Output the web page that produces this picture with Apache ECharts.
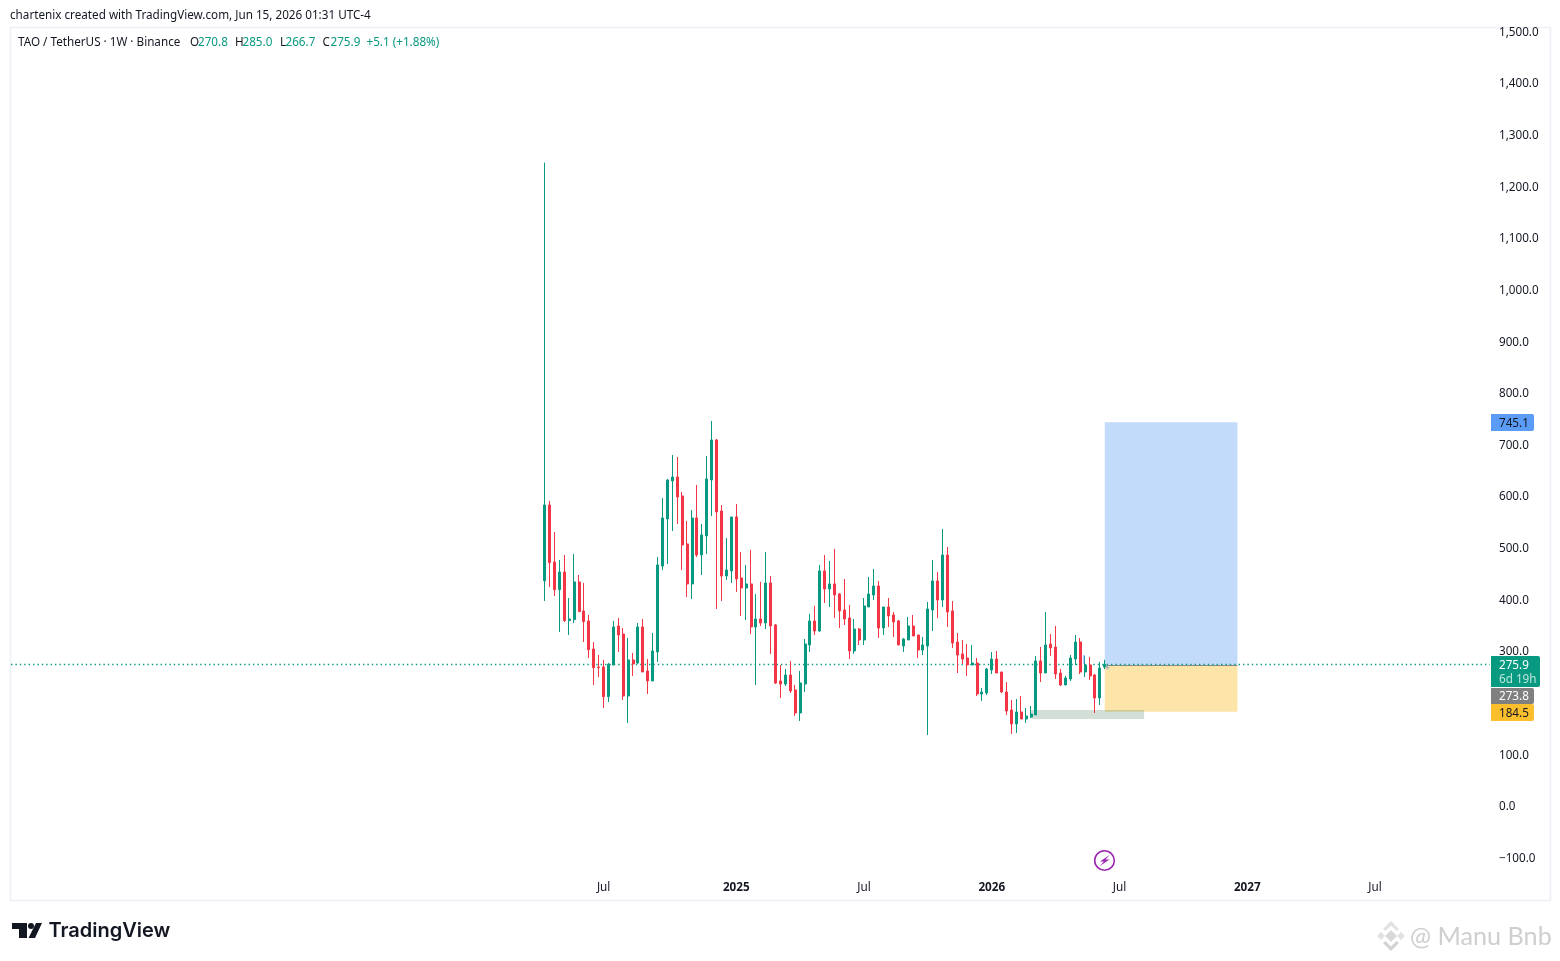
<!DOCTYPE html>
<html><head><meta charset="utf-8">
<style>html,body{margin:0;padding:0;background:#fff}#c{width:1560px;height:961px}</style>
<script src="https://cdn.jsdelivr.net/npm/echarts@6/dist/echarts.min.js"></script>
</head><body><div id="c"></div>
<script>
const FONT='"Noto Sans",sans-serif';
const opens=[438.2,584.8,474.4,420.8,455,360.8,362.7,435.7,379.5,360.1,305.9,271,271,213.5,274.9,350.4,334.9,214.8,284.6,278.8,348.5,263.2,243.9,300.1,466.6,557.7,631.3,639,602.2,509.3,431.8,559.6,487.9,524.8,633.2,710.7,573.2,447.3,457,561.6,443.4,424,431.8,348.5,364,356.2,433.7,352.4,243.9,238,255.5,226.5,181.9,238,313.6,360.1,340.7,457,422.1,431.8,412.4,381.4,365.9,302,344.6,323.3,387.2,410.5,427.9,346.5,387.2,371.7,360.1,311.7,323.3,350.4,333,303.9,311.7,381.4,437.6,400.8,487.9,379.5,319.4,296.2,288.4,274.8,278.7,218.6,220.6,265.1,286.4,261.3,222.5,187.7,160.5,183.8,170.2,174.1,178,282.6,259.3,315.5,309.7,259.3,236.1,247.7,286.4,319.4,261.3,274.8,255.5,210.9,270.8];
const closes=[584.8,473.1,420.8,455,360.8,364,435.7,378.2,358.8,304.6,269.7,269.7,213.5,276.2,348.5,333,214.8,284.6,276.8,348.5,261.3,243.9,302,468.6,559.6,633.2,639,600.3,507.3,431.8,559.6,487.9,526.7,635.2,710.7,571.3,447.3,458.9,561.6,441.5,424,431.8,348.5,364,356.2,433.7,350.4,239.8,238,255.5,224.5,181.9,240,315.6,360.1,340.7,457,422.1,431.8,410.5,379.5,364,302,344.6,323.3,389.1,412.4,427.9,346.5,387.2,369.8,358.2,313.6,325.2,350.4,331,303.9,313.6,383.3,437.6,400.8,487.9,377.5,317.5,294.2,286.5,274.8,278.7,218.6,222.5,267.1,286.4,259.3,222.5,185.7,160.5,183.8,170.2,176,179.9,282.6,259.3,313.6,307.8,257.4,236.1,249.6,288.4,319.4,261.3,274.8,253.5,210.9,269,275.9];
const lows=[398.8,426,408.5,338.8,358.2,333,356.2,378.2,319.4,288.4,236.1,251.6,191.6,203.2,274.9,300.1,207.1,162.5,253.6,276.8,261.3,218.7,243.9,280.7,458.9,470.5,534.4,548,458.9,406.6,402.7,484.1,449.2,489.9,563.5,383.4,398.9,439.5,433.7,416.3,369.8,362,334.9,236.1,350.4,344.6,296.2,238,210.9,234.2,220.6,176.1,166.4,222.6,300.1,332.9,338.8,395,387.2,365.9,346.5,352.3,286.5,296.2,313.6,313.6,387.2,400.8,327.2,333,348.5,329.1,313.6,300.1,323.3,331,288.4,294.2,139.3,340.7,365.9,387.2,348.5,307.8,259.4,276.8,253.5,274.8,214.8,205.1,216.7,257.4,259.3,220.6,178,141.2,143.1,170.2,162.5,172.2,178,241.9,259.3,292.3,247.7,234.2,236.1,243.8,274.8,257.4,251.6,245.8,181.8,197.3,266.7];
const highs=[1248,592.6,532.5,478.3,488,404.6,489.9,449.2,433.7,371.7,319.4,294.2,284.6,278.8,360.1,365.9,346.5,327.2,298.1,356.2,364,286.5,336.9,484.1,598.4,635.2,681.7,677.8,610,553.8,575.1,623.6,548,679.7,747.5,712.7,584.8,520.9,561.6,586.7,493.8,468.6,497.6,412.4,435.7,493.8,447.3,354.3,274.9,267.1,282.6,236.1,263.3,325.2,373.7,389.2,468.6,487.9,476.3,499.6,414.3,441.4,391.1,364,346.5,404.6,445.3,460.8,437.6,387.2,404.6,377.5,362,327.2,367.8,371.7,333,329.1,396.9,478.3,455,538.3,503.4,398.8,336.8,323.3,315.5,313.6,288.4,230.3,269,300,302,261.3,241.9,207,209,214.8,191.5,195.4,292.3,309.7,377.5,334.9,350.4,267.1,253.5,294.2,332.9,327.1,292.3,290.3,257.4,280.6,285];
const firstCandle='2024-04-08';
const leadWeeks=108, totalWeeks=301;
const xTickWeeks=[12,39,65,91,117,143,169];
const xTickLabels=['Jul','2025','Jul','2026','Jul','2027','Jul'];
const yTickLabels=['−100.0','0.0','100.0','200.0','300.0','400.0','500.0','600.0','700.0','800.0','900.0','1,000.0','1,100.0','1,200.0','1,300.0','1,400.0','1,500.0'];
const lastPrice=275.9, entry=273.8, target=745.1, stop=184.5;
const positionWeeks=[114,141];
const zoneWeeks=[99,122], zonePrices=[170.2,187.7];
const headerTitle='chartenix created with TradingView.com, Jun 15, 2026 01:31 UTC-4';
const symbolText='TAO / TetherUS · 1W · Binance';
const ohlcLabels=['O','H','L','C'], ohlcValues=['270.8','285.0','266.7','275.9'], changeText='+5.1 (+1.88%)';

const DAY=864e5, t0=Date.parse(firstCandle+'T00:00:00Z');
const categories=[];
for(let i=0;i<totalWeeks;i++){categories.push(new Date(t0+(i-leadWeeks)*7*DAY).toISOString().slice(0,10));}
const cat=w=>categories[leadWeeks+w];
const candleData=opens.map((o,i)=>[cat(i),o,closes[i],lows[i],highs[i]]);
const GREEN='#089981',RED='#f23645',INK='#131722',FS=11.7;

const txt=(x,y,text,fill,extra)=>({type:'text',x,y,silent:true,z:50,style:Object.assign({text,fill,font:FS+'px '+FONT,textVerticalAlign:'middle',textBaseline:'middle'},extra||{})});
const box=(x,y,w,h,fill)=>({type:'rect',silent:true,z:49,shape:{x,y,width:w,height:h,r:[0,2,2,0]},style:{fill}});
const poly=(points,fill,z)=>({type:'polygon',silent:true,z:z||50,shape:{points},style:{fill}});
const ohlcX=[[190,198],[235,242.5],[280,285.5],[322.5,330.5]];
const graphics=[
 {type:'rect',silent:true,z:0,shape:{x:10.5,y:27.5,width:1540,height:873},style:{fill:'none',stroke:'#eef0f5',lineWidth:1.5}},
 txt(10,15.5,headerTitle,INK),
 txt(18,42.5,symbolText,INK),
 txt(366.5,42.5,changeText,GREEN),
 // price-scale tags
 box(1491,414,43,17,'#5b9cf6'),txt(1499,423.5,String(target),'#131722'),
 box(1491,656,49,31,GREEN),txt(1499,665.5,String(lastPrice),'#fff'),txt(1499,679.5,'6d 19h','#bfe6dc'),
 box(1491,688,43,16,'#808080'),txt(1499,696.5,String(entry),'#fff'),
 box(1491,704,43,17,'#fbbf2d'),txt(1499,713.5,String(stop),'#131722'),
 // lightning icon
 {type:'circle',silent:true,z:50,shape:{cx:1104.5,cy:860.5,r:9.8},style:{fill:'#fff',stroke:'#9c27b0',lineWidth:1.6}},
 poly([[1109.5,855],[1100,861.5],[1103.8,861.5],[1100,866],[1109.5,859.5],[1105.5,859.5]],'#9c27b0',51),
 // small annotation details near the last bar
 {type:'rect',silent:true,z:20,shape:{x:1083.5,y:655,width:1,height:9},style:{fill:'#5b9cf6'}},
 poly([[1106,665],[1110,668],[1108,668.3],[1109.5,670],[1107.5,669],[1106.5,670]],'#b2b5be',20),
 // TradingView logo
 poly([[12,923],[27,923],[27,938],[19,938],[19,929],[12,929]],'#131722'),
 {type:'circle',silent:true,z:50,shape:{cx:31,cy:926,r:3},style:{fill:'#131722'}},
 poly([[36,923],[42,923],[35,938],[28.5,938]],'#131722'),
 txt(48.5,931,'TradingView','#131722',{font:'600 20px Inter,'+FONT}),
 // watermark
 poly([[1391,930],[1397,936],[1391,942],[1385,936]],'#d9d9d9'),
 poly([[1381,932],[1385,936],[1381,940],[1377,936]],'#e2e2e2'),
 poly([[1401,932],[1405,936],[1401,940],[1397,936]],'#e2e2e2'),
 poly([[1391,921],[1399,929],[1396.5,931],[1391,925.5],[1385.5,931],[1383,929]],'#e2e2e2'),
 poly([[1391,951],[1399,943],[1396.5,941],[1391,946.5],[1385.5,941],[1383,943]],'#d2d2d2'),
 txt(1410,936.5,'@ Manu Bnb','#cfcfcf',{font:'25.2px Lato,'+FONT})
];
ohlcLabels.forEach((l,i)=>{graphics.push(txt(ohlcX[i][0],42.5,l,INK));graphics.push(txt(ohlcX[i][1],42.5,ohlcValues[i],GREEN));});

const chart=echarts.init(document.getElementById('c'),null,{renderer:'canvas'});
chart.setOption({
 animation:false,backgroundColor:'#fff',
 grid:{left:11.5,width:1479,top:32.5,height:826},
 textStyle:{fontFamily:FONT},
 xAxis:{type:'category',data:categories,boundaryGap:true,
  axisLine:{show:false},axisTick:{show:false},splitLine:{show:false},
  axisLabel:{margin:23,fontSize:FS,color:INK,fontFamily:FONT,
   interval:i=>xTickWeeks.includes(i-leadWeeks),
   formatter:(v,i)=>{const k=xTickWeeks.indexOf(i-leadWeeks);if(k<0)return '';const s=xTickLabels[k];return /^\d/.test(s)?'{b|'+s+'}':s;},
   rich:{b:{fontWeight:'bold',fontSize:FS,color:INK,fontFamily:FONT}}}},
 yAxis:{type:'value',position:'right',min:-100,max:1500,interval:100,scale:false,
   axisLine:{show:false},axisTick:{show:false},splitLine:{show:false},
   axisLabel:{margin:8.5,align:'left',fontSize:FS,color:INK,fontFamily:FONT,
    formatter:(v,i)=>yTickLabels[i]}},
 graphic:{elements:graphics},
 series:[
  {type:'line',data:[],silent:true,z:1,
   markArea:{silent:true,z:1,label:{show:false},data:[
    [{xAxis:cat(positionWeeks[0]),yAxis:entry,itemStyle:{color:'#c2dbfb'}},{xAxis:cat(positionWeeks[1]),yAxis:target}],
    [{xAxis:cat(positionWeeks[0]),yAxis:stop,itemStyle:{color:'#fde4a8'}},{xAxis:cat(positionWeeks[1]),yAxis:entry}],
    [{xAxis:cat(zoneWeeks[0]),yAxis:zonePrices[0],itemStyle:{color:'rgba(76,125,90,0.25)'}},{xAxis:cat(zoneWeeks[1]),yAxis:zonePrices[1]}]
   ]},
   markLine:{silent:true,z:1,symbol:'none',label:{show:false},data:[
    [{xAxis:cat(positionWeeks[0]),yAxis:entry,lineStyle:{color:'#8a8a80',width:1,type:'solid'}},{xAxis:cat(positionWeeks[1]),yAxis:entry}]
   ]}},
  {type:'line',data:[],silent:true,z:1,
   markLine:{silent:true,z:1,symbol:'none',label:{show:false},lineStyle:{color:GREEN,width:1.4,type:[1.4,3]},
    data:[[{x:11,yAxis:lastPrice},{x:1490,yAxis:lastPrice}]]}},
  {type:'candlestick',name:'TAO/USDT',data:candleData,encode:{x:0,y:[1,2,3,4]},barWidth:2.5,z:3,silent:true,
   itemStyle:{color:GREEN,color0:RED,borderColor:GREEN,borderColor0:RED,borderWidth:1}}
 ]
});
</script></body></html>
